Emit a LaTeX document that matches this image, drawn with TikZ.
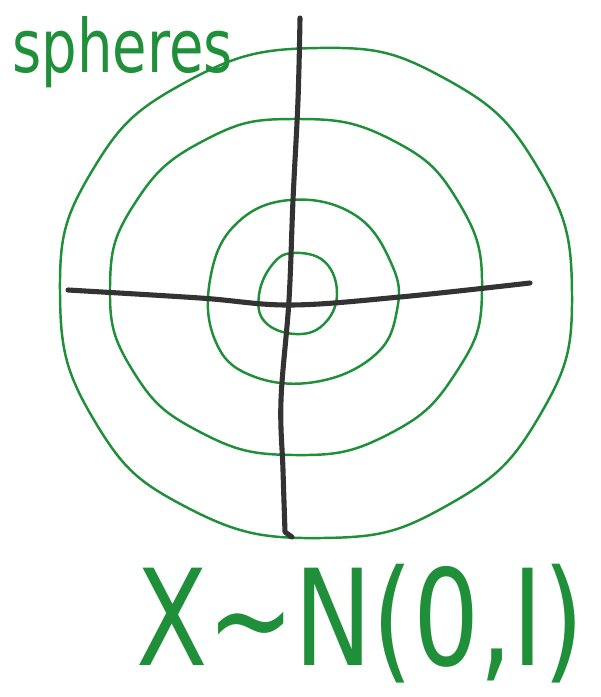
\documentclass[tikz,border=0pt]{standalone}
\usepackage{fontspec}
\setmainfont{DejaVu Sans}
\usepackage{xcolor}
\usetikzlibrary{positioning}
\definecolor{penGreen}{HTML}{1F8F3A}
\definecolor{penGray}{HTML}{333333}

\begin{document}
\begin{tikzpicture}[
    x=0.02cm, y=-0.02cm,
    ring/.style={draw=penGreen, line width=1.4pt},
    axis/.style={draw=penGray, line width=2.9pt, line cap=round, line join=round},
    label/.style={text=penGreen, inner sep=0pt}
]
\useasboundingbox (0,0) rectangle (601,697);

% rings
\draw[ring] plot[smooth cycle, tension=0.8] coordinates {(318,48) (444,78) (538,168) (572,293)
    (540,415) (448,505) (322,538) (188,508) (94,420) (60,293) (92,171) (186,82)};
\draw[ring] plot[smooth cycle, tension=0.8] coordinates {(296,119) (392,140) (459,203) (482,290)
    (457,371) (389,434) (294,455) (200,432) (133,371) (110,287) (135,203) (205,140)};
\draw[ring] plot[smooth cycle, tension=0.7] coordinates {(290,200) (355,215) (392,265) (397,310)
    (375,355) (315,382) (250,375) (215,340) (210,280) (235,225)};
\draw[ring] plot[smooth cycle, tension=0.7] coordinates {(293,253) (325,262) (337,295)
    (323,325) (295,334) (265,322) (259,295) (272,265)};

% axes
\coordinate (ytop) at (300,18);
\coordinate (ybot) at (285,532);
\coordinate (xleft) at (68,290);
\coordinate (xright) at (530,283);
\draw[axis] plot[smooth, tension=0.6] coordinates {(ytop) (298,100) (293,200) (289,300)
    (281,400) (283,470) (ybot)} -- (292,537);
\draw[axis] plot[smooth, tension=0.6] coordinates {(xleft) (200,298) (290,305)
    (400,297) (xright)};

% labels
\node[label, font=\fontsize{42}{48}\selectfont, xscale=0.76, anchor=base west]
    (title) at (12,72) {spheres};
\node[label, font=\fontsize{76}{86}\selectfont, xscale=0.78, anchor=base]
    (dist) at (360,665) {X∼N(0,I)};
\end{tikzpicture}
\end{document}
